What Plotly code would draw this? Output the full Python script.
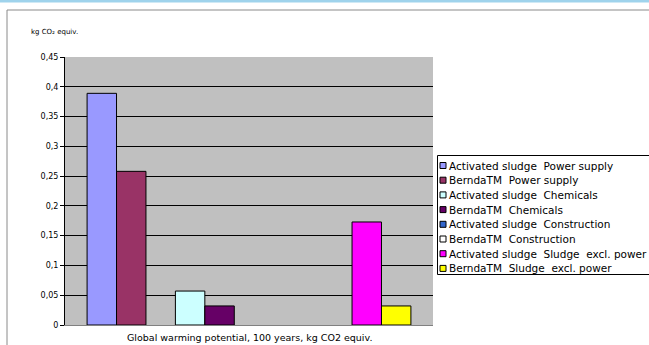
import plotly.graph_objects as go

# Global warming potential per scenario component, kg CO2 equiv.
category = ["Global warming potential, 100 years, kg CO2 equiv."]
series_names = [
    "Activated sludge  Power supply",
    "BerndaTM  Power supply",
    "Activated sludge  Chemicals",
    "BerndaTM  Chemicals",
    "Activated sludge  Construction",
    "BerndaTM  Construction",
    "Activated sludge  Sludge  excl. power",
    "BerndaTM  Sludge  excl. power",
]
series_values = [0.389, 0.258, 0.057, 0.032, 0.0, 0.0, 0.173, 0.032]
series_colors = ["#9999FF", "#993366", "#CCFFFF", "#660066",
                 "#3366CC", "#FFFFFF", "#FF00FF", "#FFFF00"]
y_ticks = [0, 0.05, 0.1, 0.15, 0.2, 0.25, 0.3, 0.35, 0.4, 0.45]
y_tick_text = ["0", "0,05", "0,1", "0,15", "0,2", "0,25", "0,3", "0,35", "0,4", "0,45"]
y_title = "kg CO₂ equiv."

FONT = "DejaVu Sans, Arial, sans-serif"
W, H = 649, 345
ML, MR, MT, MB = 65, 216, 57, 20
PW, PH = W - ML - MR, H - MT - MB


def px_x(px):
    return (px - ML) / PW


def px_y(py):
    return (H - MB - py) / PH


# bars are laid out in pairs with a one-bar gap between the pairs
slot_w = 0.08
start = -0.44
slots = [0, 1, 3, 4, 6, 7, 9, 10]

fig = go.Figure()
for name, val, col, s in zip(series_names, series_values, series_colors, slots):
    fig.add_trace(go.Bar(
        x=category, y=[val], name=name, showlegend=False,
        marker=dict(color=col, line=dict(color="black", width=1 if val > 0 else 0)),
        width=slot_w, offset=start + s * slot_w,
    ))

shapes = [
    # page strip above the chart
    dict(type="rect", xref="paper", yref="paper",
         x0=px_x(-5), x1=px_x(W + 5), y0=px_y(2.5), y1=px_y(-1),
         fillcolor="#9FD3EC", line=dict(width=0), layer="below"),
    # chart frame
    dict(type="line", xref="paper", yref="paper",
         x0=px_x(7), x1=px_x(W + 5), y0=px_y(10), y1=px_y(10),
         line=dict(color="#8A8A8A", width=1)),
    dict(type="line", xref="paper", yref="paper",
         x0=px_x(7), x1=px_x(7), y0=px_y(10), y1=px_y(H + 5),
         line=dict(color="#8A8A8A", width=1)),
    # legend box
    dict(type="rect", xref="paper", yref="paper",
         x0=px_x(437.5), x1=px_x(W + 10), y0=px_y(155.5), y1=px_y(274.5),
         fillcolor="white", line=dict(color="black", width=1)),
]
annotations = [
    dict(text=y_title, xref="paper", yref="paper",
         x=px_x(29), y=px_y(32), xanchor="left", yanchor="middle",
         showarrow=False, font=dict(size=7, family=FONT)),
    dict(text=category[0], xref="paper", yref="paper",
         x=0.5, y=px_y(337), xanchor="center", yanchor="middle",
         showarrow=False, font=dict(size=9.5, family=FONT)),
]

# legend entries: swatch plus label, one row per series
row0, row_h = 165.5, 14.7
for i, (name, col) in enumerate(zip(series_names, series_colors)):
    cy = row0 + i * row_h
    shapes.append(dict(type="rect", xref="paper", yref="paper",
                       x0=px_x(440), x1=px_x(446), y0=px_y(cy + 3), y1=px_y(cy - 3),
                       fillcolor=col, line=dict(color="black", width=1)))
    annotations.append(dict(text=name, xref="paper", yref="paper",
                            x=px_x(447), y=px_y(cy), xanchor="left", yanchor="middle",
                            showarrow=False, font=dict(size=10.5, family=FONT)))

fig.update_layout(
    width=W, height=H,
    margin=dict(l=ML, r=MR, t=MT, b=MB),
    paper_bgcolor="white",
    plot_bgcolor="#C0C0C0",
    font=dict(family=FONT, size=9, color="black"),
    barmode="overlay",
    showlegend=False,
    xaxis=dict(
        type="category", range=[-0.5, 0.5],
        showticklabels=False, showgrid=False, zeroline=False,
        showline=True, linecolor="#808080", linewidth=1,
        ticks="",
    ),
    yaxis=dict(
        range=[0, 0.45], tickvals=y_ticks, ticktext=y_tick_text,
        showgrid=True, gridcolor="black", gridwidth=1,
        zeroline=False, showline=True, linecolor="black", linewidth=1,
        ticks="outside", ticklen=4, tickcolor="black",
        tickfont=dict(size=8, family=FONT),
    ),
    annotations=annotations,
    shapes=shapes,
)

fig.write_html("out.html")
